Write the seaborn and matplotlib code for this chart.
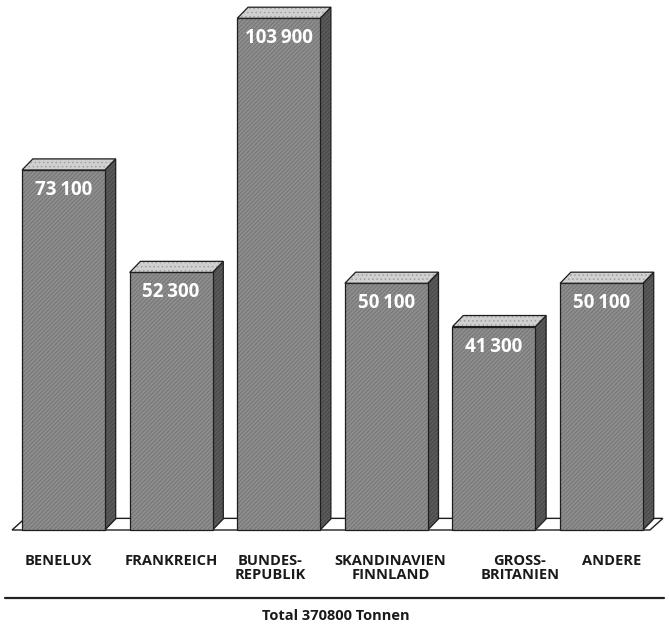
import matplotlib
matplotlib.use("Agg")
import matplotlib.pyplot as plt
from matplotlib.patches import Polygon, Rectangle
from matplotlib.lines import Line2D
import seaborn as sns
import pandas as pd

# ---- data ----
categories = ["BENELUX", "FRANKREICH", "BUNDES-\nREPUBLIK",
              "SKANDINAVIEN\nFINNLAND", "GROSS-\nBRITANIEN", "ANDERE"]
values = [73100, 52300, 103900, 50100, 41300, 50100]
total_label = "Total 370800 Tonnen"

# ---- layout / style ----
label_dx = [-0.05, 0.0, -0.08, 0.04, 0.24, 0.09]   # label offsets (category units)
DX = 0.10      # depth offset, category units
DY = 2250      # depth offset, value units
FRONT = "#8e8e8e"
FRONT_HATCH = "#707070"
SIDE = "#5a5a5a"
SIDE_HATCH = "#444444"
TOP = "#d0d0d0"
TOP_HATCH = "#a0a0a0"
OUTLINE = "#1e1e1e"
FONT = ["Open Sans", "DejaVu Sans"]

sns.set_theme(style="white")
plt.rcParams["font.family"] = FONT
plt.rcParams["hatch.linewidth"] = 0.6

df = pd.DataFrame({"cat": categories, "val": values})

fig = plt.figure(figsize=(6.69, 6.27), dpi=100)
ax = fig.add_axes([0, 0, 1, 1])
sns.barplot(data=df, x="cat", y="val", color=FRONT, saturation=1,
            width=0.77, ax=ax, zorder=3)
ax.set_xlim(-0.590, 5.627)
ax.set_ylim(-19695, 107614)
ax.axis("off")

patches = list(ax.patches)

# floor
x_left = patches[0].get_x() - 0.093
x_right = patches[-1].get_x() + patches[-1].get_width() + 0.065
floor = Polygon([(x_left, 0), (x_left + DX + 0.02, DY * 1.05),
                 (x_right + DX + 0.02, DY * 1.05), (x_right, 0)],
                closed=True, facecolor="white", edgecolor=OUTLINE,
                linewidth=1.0, zorder=1)
ax.add_patch(floor)

for p, v in zip(patches, values):
    x0 = p.get_x()
    w = p.get_width()
    h = p.get_height()
    p.set_hatch("////////")
    p.set_edgecolor(FRONT_HATCH)
    p.set_linewidth(0)
    ax.add_patch(Rectangle((x0, 0), w, h, fill=False, edgecolor=OUTLINE,
                           linewidth=0.9, zorder=3.5))
    # side face
    side = [(x0 + w, 0), (x0 + w + DX, DY), (x0 + w + DX, h + DY), (x0 + w, h)]
    ax.add_patch(Polygon(side, closed=True, facecolor=SIDE, edgecolor=SIDE_HATCH,
                         hatch="////////", linewidth=0, zorder=2))
    ax.add_patch(Polygon(side, closed=True, fill=False, edgecolor=OUTLINE,
                         linewidth=0.9, zorder=2.5))
    # top face
    top = [(x0, h), (x0 + DX, h + DY), (x0 + w + DX, h + DY), (x0 + w, h)]
    ax.add_patch(Polygon(top, closed=True, facecolor=TOP, edgecolor=TOP_HATCH,
                         hatch="....", linewidth=0, zorder=4))
    ax.add_patch(Polygon(top, closed=True, fill=False, edgecolor=OUTLINE,
                         linewidth=0.9, zorder=5))
    # value label
    s = f"{v:,}".replace(",", "\u2009")
    ax.annotate(s, xy=(x0 + w / 2, h), xytext=(0, -18), textcoords="offset points",
                ha="center", va="baseline", color="white", fontsize=13.5,
                fontweight="bold", family=FONT, zorder=6)

# category labels
for i, (c, d) in enumerate(zip(categories, label_dx)):
    ax.text(i + d, -4900, c, ha="center", va="top", fontsize=10.5,
            fontweight="bold", family=FONT, color="#1a1a1a", linespacing=1.0)

# separator line
fig.add_artist(Line2D([5 / 669, 664 / 669], [1 - 598 / 627, 1 - 598 / 627],
                      color="#222222", linewidth=1.6))
fig.text(336 / 669, 1 - 620 / 627, total_label, ha="center", va="baseline",
         fontsize=10.5, fontweight="bold", family=FONT, color="#1a1a1a")

fig.savefig("out.png", dpi=100)
